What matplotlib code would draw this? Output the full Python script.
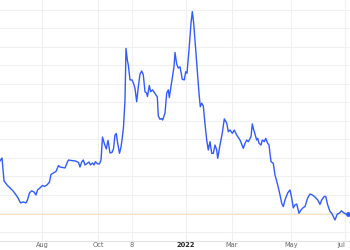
import matplotlib
matplotlib.use('Agg')
import matplotlib.pyplot as plt

### price trace (session index, value)
session = [0, 2, 4, 7, 10, 13, 16, 18, 20.5, 23, 26, 27.5, 29.5, 31.5, 34, 36, 37.5, 40,
           42.5, 44.5, 47, 49.5, 51, 53.5, 56, 58.5, 60, 62, 65, 67, 68.5, 71.5, 75, 78.5,
           80, 81.7, 83.3, 85, 87, 89, 90.5, 92.5, 94, 95.5, 97.5, 99.5, 101, 102.5, 104.3,
           106.3, 108, 110, 112, 113.5, 115, 116.3, 117.3, 119.5, 121, 122, 123.5, 125, 126,
           127.3, 128.3, 130, 132, 133.5, 135, 136.7, 138.3, 140, 141.7, 143.3, 145, 146.5,
           147.5, 149.3, 150.7, 152.5, 154, 156, 157.3, 158.3, 160, 161.7, 162.7, 165, 166.7,
           168.3, 169.3, 170.7, 172, 174, 175, 176.7, 178.3, 180, 182.3, 184.3, 185.7, 187,
           189, 191, 192.3, 193.7, 195.7, 197.7, 199, 200.3, 201.7, 203.3, 205, 206.7, 208.3,
           210, 211.7, 213.3, 215, 216.7, 217.7, 220, 222.3, 224.3, 226.7, 228.3, 230, 232.3,
           234.3, 236.7, 240, 243.3, 245, 246.7, 248.3, 251, 252.3, 253.3, 254.3, 256.7,
           257.7, 259, 261, 262.3, 264.3, 265.7, 267.7, 269, 271, 273.3, 275, 277.7, 280,
           281.7, 283.3, 285, 287.7, 290, 291.7, 293.3, 295, 296.7, 299, 301, 303.3, 305,
           307.7, 310, 312.3, 315, 317.7, 320, 321.7, 324.3, 325.7, 327.7, 330, 331.7, 334.3,
           335, 337.3, 339, 341.5, 343.3, 345.7, 348.3]
price = [38.4, 40.0, 27.6, 25.4, 23.8, 22.2, 20.0, 18.4, 15.7, 16.2, 15.7, 17.3, 21.1, 22.2,
         21.6, 20.0, 22.7, 23.8, 25.1, 24.6, 25.4, 27.0, 31.1, 31.9, 32.7, 35.9, 35.1, 34.9,
         34.6, 37.3, 38.9, 38.6, 38.4, 37.6, 35.1, 37.8, 38.9, 36.2, 37.0, 37.8, 36.2, 37.3,
         36.2, 38.0, 36.8, 36.8, 38.9, 51.3, 47.8, 44.9, 49.5, 42.7, 43.0, 44.9, 52.4, 53.2,
         49.2, 42.5, 45.9, 49.7, 56.8, 71.3, 99.2, 93.0, 90.3, 82.2, 82.2, 80.3, 77.6, 70.4,
         78.4, 85.4, 87.0, 84.9, 75.8, 75.1, 73.2, 79.2, 75.8, 76.8, 75.7, 74.0, 73.0, 62.7,
         60.9, 61.3, 60.5, 64.3, 75.1, 76.8, 72.7, 77.7, 82.2, 89.3, 97.0, 90.8, 88.6, 89.3,
         82.5, 82.2, 86.6, 85.8, 98.4, 112.8, 119.1, 112.8, 98.4, 83.9, 75.0, 67.7, 69.6,
         68.1, 58.4, 49.7, 44.3, 48.8, 42.5, 42.5, 47.0, 44.3, 39.8, 47.0, 53.5, 61.1, 58.9,
         54.2, 55.1, 53.3, 55.1, 52.4, 49.7, 45.2, 47.9, 49.7, 48.8, 51.5, 58.4, 56.0, 54.2,
         49.7, 50.6, 47.9, 47.0, 49.7, 48.8, 50.6, 47.9, 47.0, 38.0, 37.1, 30.8, 25.4, 20.0,
         15.5, 13.7, 17.3, 21.1, 22.7, 18.4, 13.0, 14.6, 15.1, 10.1, 11.9, 13.2, 13.7, 18.4,
         20.5, 20.0, 18.9, 17.3, 14.9, 17.3, 19.2, 19.2, 14.6, 11.0, 10.1, 7.3, 6.5, 9.7,
         10.0, 11.4, 10.5, 9.7, 9.6]

tick_pos = [42, 98, 132, 186, 232, 291, 345]
tick_labels = ['Aug', 'Oct', '8', '2022', 'Mar', 'May', 'Jul']
grid_levels = [0, 10, 20, 30, 40, 50, 60, 70, 80, 90, 100, 110, 120]

fig = plt.figure(figsize=(3.5, 2.5), dpi=100)
ax = fig.add_axes([0, 9 / 250, 1, 241 / 250])

# grid
for g in grid_levels:
    ax.axhline(g, color='#f0f0f0', lw=0.8, zorder=0)
for t in tick_pos:
    ax.axvline(t, color='#f0f0f0', lw=0.8, zorder=0)

# last price line
ax.axhline(price[-1], color='#fde3c8', lw=0.8, zorder=1)

ax.plot(session, price, color='#2f5cff', lw=1.0, zorder=3)
ax.plot(session[-1], price[-1], 'o', color='#2f5cff', ms=2.5, zorder=4)

ax.set_xlim(0, 350)
ax.set_ylim(-4.9, 125.4)
ax.set_yticks([])
ax.set_xticks(tick_pos)
ax.set_xticklabels(tick_labels)
ax.tick_params(axis='x', length=0, pad=0.8, labelsize=4.8, labelcolor='#666666')
for lbl in ax.get_xticklabels():
    if lbl.get_text() == '2022':
        lbl.set_fontweight('bold')
        lbl.set_color('#222222')
    if lbl.get_text() == 'Jul':
        lbl.set_horizontalalignment('right')
        lbl.set_x(350)

for s in ['top', 'left', 'right']:
    ax.spines[s].set_visible(False)
ax.spines['bottom'].set_color('#e3e3e3')
ax.spines['bottom'].set_linewidth(0.8)

plt.savefig('out.png', dpi=100)
